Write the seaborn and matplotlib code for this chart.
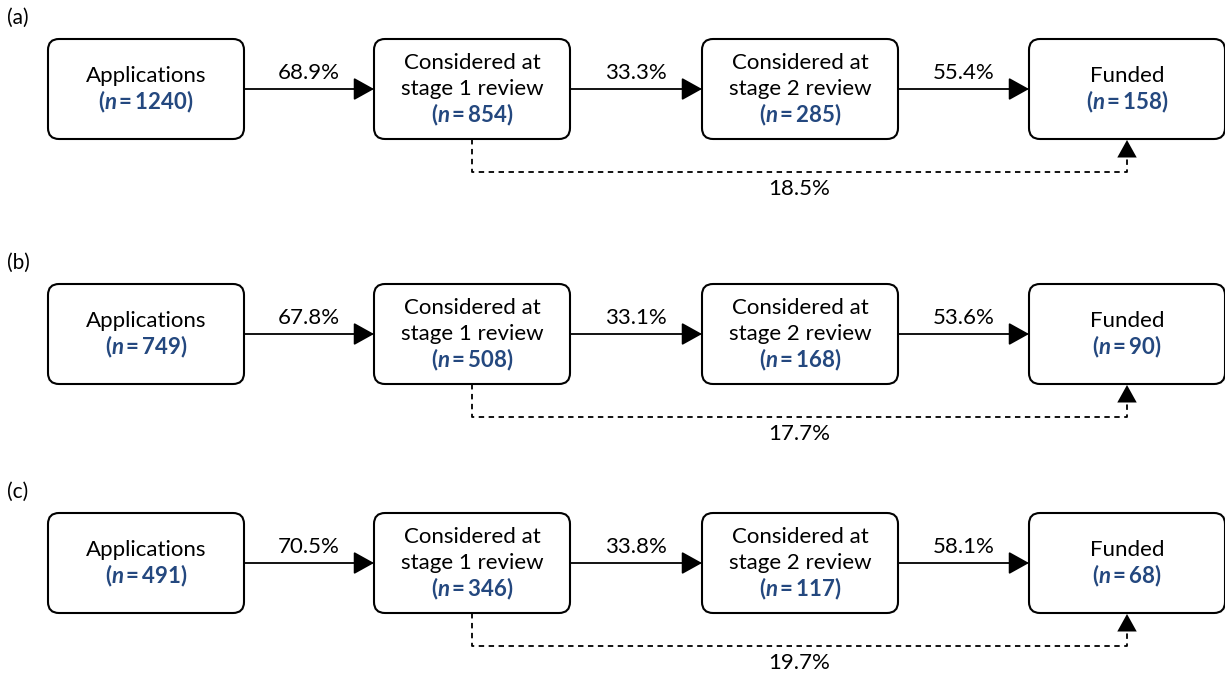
import matplotlib
matplotlib.use("Agg")
import matplotlib.pyplot as plt
import seaborn as sns
from matplotlib.patches import FancyBboxPatch

# datos del diagrama
panel_labels = ['(a)', '(b)', '(c)']
stages = ['Applications', 'Considered at\nstage 1 review', 'Considered at\nstage 2 review', 'Funded']
counts_a = [1240, 854, 285, 158]
counts_b = [749, 508, 168, 90]
counts_c = [491, 346, 117, 68]
rates_a = ['68.9%', '33.3%', '55.4%']
rates_b = ['67.8%', '33.1%', '53.6%']
rates_c = ['70.5%', '33.8%', '58.1%']
skip_rates = ['18.5%', '17.7%', '19.7%']

counts = [counts_a, counts_b, counts_c]
rates = [rates_a, rates_b, rates_c]

sns.set_theme(style='white')
plt.rcParams['font.family'] = ['Lato', 'DejaVu Sans']
plt.rcParams['text.color'] = 'black'
plt.rcParams['mathtext.fontset'] = 'custom'
plt.rcParams['mathtext.it'] = 'Lato:italic:bold'
plt.rcParams['mathtext.rm'] = 'Lato:bold'

fig = plt.figure(figsize=(12.25, 6.8), dpi=100)
ax = fig.add_axes([0, 0, 1, 1])
ax.set_xlim(0, 1225)
ax.set_ylim(680, 0)
ax.axis('off')

# layout
box_x = [48, 374, 702, 1029]
box_w, box_h = 196, 100
panel_top = [39, 284, 513]
blue = '#24487f'
fs = 16
line_gap = 26
head = dict(arrowstyle='-|>,head_length=0.9,head_width=0.5', color='black',
            shrinkA=0, shrinkB=0, mutation_scale=14)

for p in range(3):
    top = panel_top[p]
    cy = top + box_h / 2
    ax.text(7, top - 21, panel_labels[p], fontsize=15, ha='left', va='center')

    for i, name in enumerate(stages):
        x0 = box_x[i]
        ax.add_patch(FancyBboxPatch((x0, top), box_w, box_h,
                                    boxstyle='round,pad=0,rounding_size=11',
                                    fc='white', ec='black', lw=1.5))
        cx = x0 + box_w / 2
        lines = name.split('\n') + ['($\\mathit{n}$\u2009=\u2009' + str(counts[p][i]) + ')']
        y_first = cy - line_gap * (len(lines) - 1) / 2
        for k, txt in enumerate(lines):
            is_n = k == len(lines) - 1
            ax.text(cx, y_first + k * line_gap, txt, fontsize=fs, ha='center', va='center',
                    color=blue if is_n else 'black',
                    fontweight='bold' if is_n else 'normal')

    # flechas horizontales
    for i in range(3):
        xs = box_x[i] + box_w
        xe = box_x[i + 1]
        ax.annotate('', xy=(xe, cy), xytext=(xs, cy), arrowprops=dict(head, lw=1.3))
        ax.text((xs + xe) / 2, cy - 16, rates[p][i], fontsize=fs, ha='center', va='center')

    # flecha discontinua de stage 1 a funded
    x1 = box_x[1] + box_w / 2
    x4 = box_x[3] + box_w / 2
    yb = top + box_h
    yd = yb + 33
    ax.plot([x1, x1, x4, x4], [yb, yd, yd, yb + 17], color='black', lw=1.3,
            linestyle=(0, (3, 2.5)))
    ax.annotate('', xy=(x4, yb + 1), xytext=(x4, yb + 18), arrowprops=dict(head, lw=0))
    ax.text((x1 + x4) / 2, yd + 17, skip_rates[p], fontsize=fs, ha='center', va='center')

fig.savefig('out.png', dpi=100)
